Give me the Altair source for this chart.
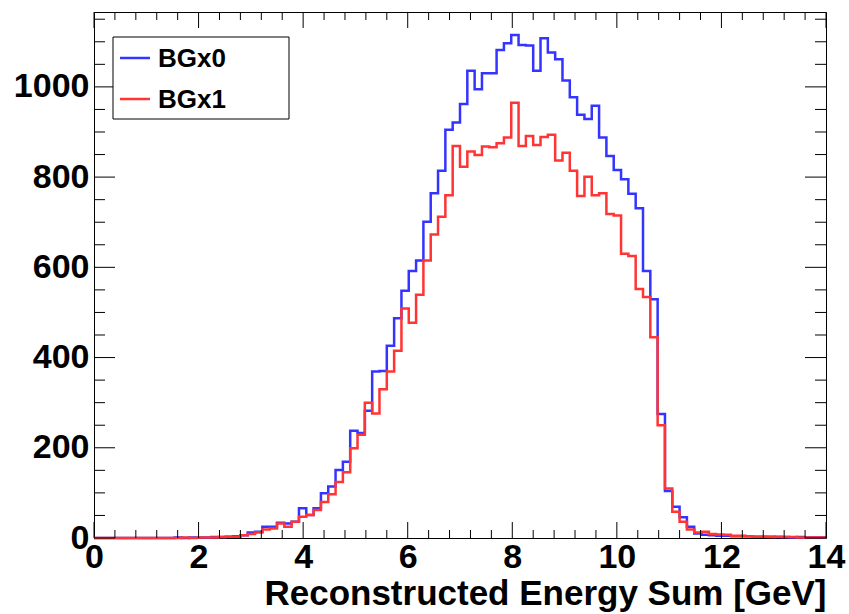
import altair as alt
import pandas as pd

# ---- data ----
n_bins = 100
x_min, x_max = 0.0, 14.0
series_names = ["BGx0", "BGx1"]
series_colors = ["#3434ff", "#ff3434"]

bgx0 = [0, 0, 0, 0, 0, 0, 0, 0, 0, 0,
        0, 1, 0, 1, 1, 1, 2, 2, 3, 4,
        6, 12, 14, 25, 25, 34, 32, 36, 66, 51,
        66, 99, 114, 151, 169, 238, 233, 282, 369, 370,
        426, 487, 548, 592, 615, 701, 764, 814, 905, 921,
        962, 1036, 995, 1030, 1030, 1082, 1097, 1115, 1093, 1092,
        1036, 1108, 1076, 1061, 1014, 977, 938, 929, 958, 888,
        847, 816, 795, 763, 731, 592, 529, 275, 104, 69,
        46, 25, 10, 7, 6, 5, 5, 4, 4, 4,
        3, 3, 3, 2, 2, 1, 2, 1, 1, 1]

bgx1 = [0, 0, 0, 0, 0, 0, 0, 0, 0, 0,
        0, 0, 1, 0, 1, 1, 1, 2, 3, 3,
        6, 9, 12, 19, 21, 32, 25, 36, 47, 51,
        62, 80, 97, 124, 146, 199, 229, 300, 276, 330,
        369, 415, 509, 477, 539, 615, 673, 712, 760, 869,
        823, 857, 849, 868, 866, 875, 888, 965, 869, 891,
        871, 889, 894, 837, 854, 814, 758, 801, 760, 764,
        718, 715, 630, 625, 552, 534, 445, 250, 110, 58,
        36, 19, 12, 14, 9, 8, 7, 5, 5, 4,
        3, 3, 2, 3, 2, 2, 1, 1, 1, 1]

x_major = [0, 2, 4, 6, 8, 10, 12, 14]
x_minor = [round(0.4 * i, 2) for i in range(36) if i % 5 != 0]
y_major = [0, 200, 400, 600, 800, 1000]
y_minor = [v for v in range(50, 1151, 50) if v % 200 != 0]
x_title = "Reconstructed Energy Sum [GeV]"

# ---- build tables ----
bw = (x_max - x_min) / n_bins
rows = []
for name, vals in zip(series_names, [bgx0, bgx1]):
    for i, v in enumerate(vals):
        rows.append({"series": name, "edge": x_min + i * bw, "count": v})
    rows.append({"series": name, "edge": x_max, "count": vals[-1]})
hist = pd.DataFrame(rows)

W, H = 732, 526
FONT = "Liberation Sans"
xs = alt.Scale(domain=[x_min, x_max], nice=False, zero=False)
ys = alt.Scale(domain=[0, 1166], nice=False)

x_axis = alt.Axis(values=x_major, ticks=False, domain=False, grid=False, format="d",
                  labelFont=FONT, labelFontSize=34, labelFontWeight="bold",
                  labelColor="black", labelPadding=2, labelFlush=False,
                  title=x_title, titleFont=FONT, titleFontSize=35,
                  titleFontWeight="bold", titleColor="black",
                  titleAnchor="end", titleAlign="right",
                  titleX=W, titleY=66, titleBaseline="alphabetic")
y_axis = alt.Axis(values=y_major, ticks=False, domain=False, grid=False, format="d",
                  labelFont=FONT, labelFontSize=34, labelFontWeight="bold",
                  labelColor="black", labelPadding=5, labelBaseline="middle",
                  labelFlush=False, title=None)

lines = alt.Chart(hist).mark_line(interpolate="step-after", strokeWidth=2.5).encode(
    x=alt.X("edge:Q", scale=xs, axis=x_axis),
    y=alt.Y("count:Q", scale=ys, axis=y_axis),
    color=alt.Color("series:N", scale=alt.Scale(domain=series_names, range=series_colors),
                    legend=None),
    detail="series:N",
)

def xticks(vals, length, top):
    df = pd.DataFrame({"v": vals})
    y0 = 0 if top else H
    y1 = length if top else H - length
    return alt.Chart(df).mark_rule(color="black", strokeWidth=1).encode(
        x=alt.X("v:Q", scale=xs, axis=x_axis), y=alt.value(y0), y2=alt.value(y1))

def yticks(vals, length, right):
    df = pd.DataFrame({"v": vals})
    x0 = W if right else 0
    x1 = W - length if right else length
    return alt.Chart(df).mark_rule(color="black", strokeWidth=1).encode(
        y=alt.Y("v:Q", scale=ys, axis=y_axis), x=alt.value(x0), x2=alt.value(x1))

tick_layers = [
    xticks(x_major, 16, False), xticks(x_minor, 8, False),
    xticks(x_major, 16, True), xticks(x_minor, 8, True),
    yticks(y_major, 21, False), yticks(y_minor, 11, False),
    yticks(y_major, 21, True), yticks(y_minor, 11, True),
]

# ---- legend box ----
one = pd.DataFrame({"a": [0]})
leg_box = alt.Chart(one).mark_rect(fill="white", stroke="black", strokeWidth=1).encode(
    x=alt.value(19), x2=alt.value(195), y=alt.value(25), y2=alt.value(107))
leg_layers = [leg_box]
for k, (name, col) in enumerate(zip(series_names, series_colors)):
    yy = 46 + 41 * k
    leg_layers.append(alt.Chart(one).mark_rule(color=col, strokeWidth=2.5).encode(
        x=alt.value(26), x2=alt.value(56), y=alt.value(yy)))
    leg_layers.append(alt.Chart(one).mark_text(
        align="left", baseline="middle", font=FONT, fontSize=26, fontWeight="bold",
        color="black").encode(x=alt.value(64), y=alt.value(yy + 1), text=alt.value(name)))

chart = alt.layer(lines, *tick_layers, *leg_layers).properties(
    width=W, height=H,
    autosize=alt.AutoSizeParams(type="none"),
    padding={"left": 94, "top": 12, "right": 23, "bottom": 76},
    background="white",
).configure_view(stroke="black", strokeWidth=1)

chart.save("out.html", embed_options={"renderer": "svg", "actions": False})
